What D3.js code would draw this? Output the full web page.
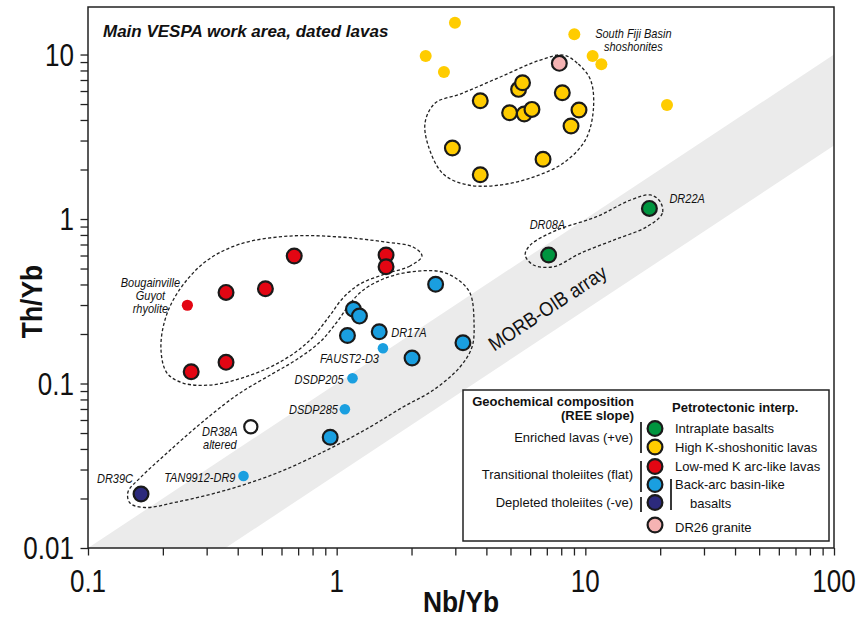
<!DOCTYPE html>
<html><head><meta charset="utf-8">
<script src="https://cdn.jsdelivr.net/npm/d3@7"></script>
<style>
body{margin:0;background:#fff}
svg{display:block}
text{font-family:"Liberation Sans",Arial,Helvetica,sans-serif;fill:#111}
</style>
</head><body>
<svg id="c" width="862" height="618"></svg>
<script>
// ---------- DATA (Nb/Yb, Th/Yb) ----------
const xTickLabels = [0.1, 1, 10, 100];
const yTickLabels = [0.01, 0.1, 1, 10];

const intraplate = [[7.12,0.604],[18.1,1.16]];
const shoshoniticDated = [[3.78,5.24],[4.96,4.43],[5.68,4.35],[6.10,4.64],[5.39,6.14],[5.59,6.74],[8.08,5.86],[9.43,4.60],[8.76,3.68],[2.92,2.70],[6.76,2.31],[3.78,1.86]];
const southFijiShoshonites = [[2.99,15.6],[2.28,9.79],[2.70,7.83],[9.03,13.3],[10.7,9.79],[11.6,8.72],[21.3,4.93]];
const granite = [[7.86,8.84]];
const arcLike = [[0.675,0.596],[1.58,0.604],[1.58,0.513],[0.359,0.358],[0.517,0.377],[0.359,0.1345],[0.260,0.118]];
const bougainvilleRhyolite = [[0.251,0.299]];
const backArc = [[2.50,0.401],[1.168,0.283],[1.235,0.257],[1.105,0.196],[1.483,0.2065],[2.01,0.143],[3.22,0.177],[0.942,0.0471]];
const backArcRef = [[1.535,0.1637],[1.158,0.1076],[1.079,0.0697],[0.422,0.0274]];
const backArcRefNames = ["FAUST2-D3","DSDP205","DSDP285","TAN9912-DR9"];
const depleted = [[0.1634,0.0213]];
const altered = [[0.4516,0.0546]];

// MORB-OIB array (Th/Yb = k * Nb/Yb)
const morbOibUpper = 0.1;
const morbOibLower = 0.028;

// dashed field envelopes
const envShoshonitic = [[8.16,9.93],[9.37,8.75],[10.5,7.0],[10.77,4.60],[10.0,3.02],[8.16,2.19],[6.18,1.80],[4.55,1.61],[3.38,1.61],[2.68,1.88],[2.33,2.82],[2.27,3.89],[2.49,5.07],[3.14,5.75],[4.55,7.30],[6.59,9.26]];
const envArc = [[2.203,0.596],[1.972,0.518],[1.564,0.4631],[1.241,0.4026],[1.060,0.331],[0.923,0.2501],[0.767,0.1788],[0.5918,0.1351],[0.4279,0.1095],[0.3094,0.0979],[0.241,0.1007],[0.2078,0.1158],[0.1966,0.1598],[0.2039,0.2432],[0.2301,0.3599],[0.2954,0.5477],[0.4086,0.7047],[0.6493,0.7881],[1.031,0.7774],[1.564,0.7247],[2.028,0.6758]];
const envBackArc = [[2.604,0.4797],[1.972,0.4763],[1.536,0.4318],[1.264,0.365],[1.121,0.300],[1.003,0.2365],[0.857,0.1788],[0.6864,0.139],[0.5495,0.1142],[0.3973,0.0851],[0.2821,0.0567],[0.2078,0.0378],[0.1634,0.027],[0.1448,0.0219],[0.1475,0.01877],[0.1696,0.01763],[0.228,0.01904],[0.361,0.02253],[0.5754,0.02857],[0.9144,0.0394],[1.362,0.0544],[1.849,0.072],[2.45,0.0913],[3.133,0.126],[3.502,0.1667],[3.568,0.2332],[3.437,0.3549],[3.047,0.4318]];
const envIntraplate = [[20.0,1.274],[20.4,1.083],[17.7,0.898],[13.0,0.745],[9.55,0.619],[7.46,0.513],[6.19,0.525],[5.73,0.604],[6.01,0.695],[7.69,0.857],[11.1,1.033],[15.2,1.305],[18.3,1.40]];

// legend
const legendGroups = ["Enriched lavas (+ve)","Transitional tholeiites (flat)","Depleted tholeiites (-ve)"];
const legendNames = ["Intraplate basalts","High K-shoshonitic lavas","Low-med K arc-like lavas","Back-arc basin-like","DR26 granite"];

// ---------- STYLE ----------
const C = {green:"#00953f", yellow:"#ffcc00", red:"#e30613", blue:"#1a9fe0", navy:"#2c2a7c", pink:"#f5b3b3", band:"#ebebeb", ink:"#1a1a1a"};

const svg = d3.select("#c");
const x = d3.scaleLog().domain([0.1,100]).range([88,834]);
const y = d3.scaleLog().domain([0.01,19.45]).range([548,7]);
const [X0,X1] = x.range(), [Y0,Y1] = y.range();

function T(parent, px, py, str, o={}) {
  return parent.append("text")
    .attr("transform", `translate(${px},${py})${o.rot?` rotate(${o.rot})`:""} scale(${o.sx||1},1)`)
    .attr("text-anchor", o.anchor||"start")
    .style("font-size", (o.size||13)+"px")
    .style("font-weight", o.weight||"normal")
    .style("font-style", o.style||"normal")
    .text(str);
}

// clip
svg.append("clipPath").attr("id","clip").append("rect")
  .attr("x",X0).attr("y",Y1).attr("width",X1-X0).attr("height",Y0-Y1);
const plot = svg.append("g").attr("clip-path","url(#clip)");

// MORB-OIB band
const xmax = x.domain()[1], ymin = y.domain()[0];
const bandPts = [[ymin/morbOibUpper, ymin],[xmax, xmax*morbOibUpper],[xmax, xmax*morbOibLower],[ymin/morbOibLower, ymin]];
plot.append("path")
  .attr("d", d3.line().x(d=>x(d[0])).y(d=>y(d[1]))(bandPts)+"Z")
  .attr("fill", C.band);

T(plot, x(7.3), y(0.265), "MORB-OIB array", {size:20, sx:0.9, rot:-33.5, anchor:"middle"});

// envelopes
const env = d3.line().x(d=>x(d[0])).y(d=>y(d[1])).curve(d3.curveCatmullRomClosed.alpha(0.5));
[envShoshonitic, envArc, envBackArc, envIntraplate].forEach(e=>{
  plot.append("path").attr("d", env(e)).attr("fill","none")
    .attr("stroke","#222").attr("stroke-width",1.3).attr("stroke-dasharray","3.2,2.2");
});

// points
function pts(data, fill, r, stroke) {
  plot.append("g").selectAll("circle").data(data).join("circle")
    .attr("cx", d=>x(d[0])).attr("cy", d=>y(d[1])).attr("r", r)
    .attr("fill", fill)
    .attr("stroke", stroke ? C.ink : "none").attr("stroke-width", stroke ? 2.2 : 0);
}
pts(southFijiShoshonites, C.yellow, 6, false);
pts(shoshoniticDated, C.yellow, 7.4, true);
pts(granite, C.pink, 7.4, true);
pts(intraplate, C.green, 7.4, true);
pts(arcLike, C.red, 7.4, true);
pts(bougainvilleRhyolite, C.red, 5.6, false);
pts(backArc, C.blue, 7.4, true);
pts(backArcRef, C.blue, 5.3, false);
pts(depleted, C.navy, 7.4, true);
pts(altered, "#fff", 6.6, true);

// annotations
const A = {size:12.5, style:"italic", sx:0.88};
const lab = (d, dx, dy, s, anchor) => T(plot, x(d[0])+dx, y(d[1])+dy, s, {...A, anchor});
lab(intraplate[1], 20, -5, "DR22A", "start");
lab(intraplate[0], -19, -26, "DR08A", "start");
lab(backArc[4], 12, 5, "DR17A", "start");
lab(backArcRef[0], -4, 14.5, backArcRefNames[0], "end");
lab(backArcRef[1], -9, 6, backArcRefNames[1], "end");
lab(backArcRef[2], -7, 5, backArcRefNames[2], "end");
lab(backArcRef[3], -8, 6, backArcRefNames[3], "end");
lab(altered[0], -31, 9.5, "DR38A", "middle");
lab(altered[0], -31, 22.5, "altered", "middle");
lab(depleted[0], -8, -11, "DR39C", "end");
lab(bougainvilleRhyolite[0], -37, -18, "Bougainville", "middle");
lab(bougainvilleRhyolite[0], -37, -5, "Guyot", "middle");
lab(bougainvilleRhyolite[0], -37, 8, "rhyolite", "middle");
lab(southFijiShoshonites[3], 59, 4, "South Fiji Basin", "middle");
lab(southFijiShoshonites[3], 59, 17, "shoshonites", "middle");

// title
T(svg, 103, 37, "Main VESPA work area, dated lavas", {size:17, weight:"bold", style:"italic"});

// axes ticks
const xt = [], yt = [];
[0.1,1,10].forEach(d=>{for(let k=1;k<10;k++) xt.push(d*k);}); xt.push(100);
[0.01,0.1,1].forEach(d=>{for(let k=1;k<10;k++) yt.push(d*k);}); yt.push(10);

const gx = svg.append("g").attr("transform",`translate(0,${Y0})`)
  .call(d3.axisBottom(x).tickValues(xt).tickSize(7.5).tickFormat(""));
const gy = svg.append("g").attr("transform",`translate(${X0},0)`)
  .call(d3.axisLeft(y).tickValues(yt).tickSize(7.5).tickFormat(""));
[gx,gy].forEach(g=>{
  g.select(".domain").remove();
  g.selectAll(".tick line").attr("stroke","#222").attr("stroke-width",1.3);
});

// frame
svg.append("rect").attr("x",X0).attr("y",Y1).attr("width",X1-X0).attr("height",Y0-Y1)
  .attr("fill","none").attr("stroke","#222").attr("stroke-width",1.5);

// tick labels
xTickLabels.forEach(v=> T(svg, x(v), 592, String(v), {size:31, sx:0.84, anchor:"middle"}));
yTickLabels.forEach(v=> T(svg, 74, y(v)+11, String(v), {size:31, sx:0.84, anchor:"end"}));

// axis titles
T(svg, (X0+X1)/2, 612, "Nb/Yb", {size:30, weight:"bold", sx:0.88, anchor:"middle"});
T(svg, 42, (Y0+Y1)/2+24, "Th/Yb", {size:30, weight:"bold", sx:0.88, rot:-90, anchor:"middle"});

// legend
const L = svg.append("g");
L.append("rect").attr("x",463).attr("y",390).attr("width",366).attr("height",151)
  .attr("fill","#fff").attr("stroke","#222").attr("stroke-width",1.5);
T(L, 634, 406, "Geochemical composition", {size:13, weight:"bold", anchor:"end"});
T(L, 634, 420, "(REE slope)", {size:13, weight:"bold", anchor:"end"});
T(L, 672, 412, "Petrotectonic interp.", {size:13, weight:"bold"});
const legColors = [C.green, C.yellow, C.red, C.blue, C.navy, C.pink];
const legY = [428.5, 447, 466.5, 484.5, 502.5, 525];
legColors.forEach((c,i)=> L.append("circle").attr("cx",655).attr("cy",legY[i]).attr("r",7.4)
  .attr("fill",c).attr("stroke",C.ink).attr("stroke-width",2.2));
T(L, 675, 432.7, legendNames[0], {size:13});
T(L, 675, 451.7, legendNames[1], {size:13});
T(L, 675, 471, legendNames[2], {size:13});
T(L, 675, 489, legendNames[3], {size:13});
T(L, 690, 507.7, "basalts", {size:13});
T(L, 675, 531.7, legendNames[4], {size:13});
T(L, 633, 442, legendGroups[0], {size:13, anchor:"end"});
T(L, 633, 479, legendGroups[1], {size:13, anchor:"end"});
T(L, 633, 506.7, legendGroups[2], {size:13, anchor:"end"});
[[641,422,453],[641,461,492],[641,497,512],[671,479,510]].forEach(b=>
  L.append("line").attr("x1",b[0]).attr("x2",b[0]).attr("y1",b[1]).attr("y2",b[2])
    .attr("stroke","#222").attr("stroke-width",1.8));
</script>
</body></html>
